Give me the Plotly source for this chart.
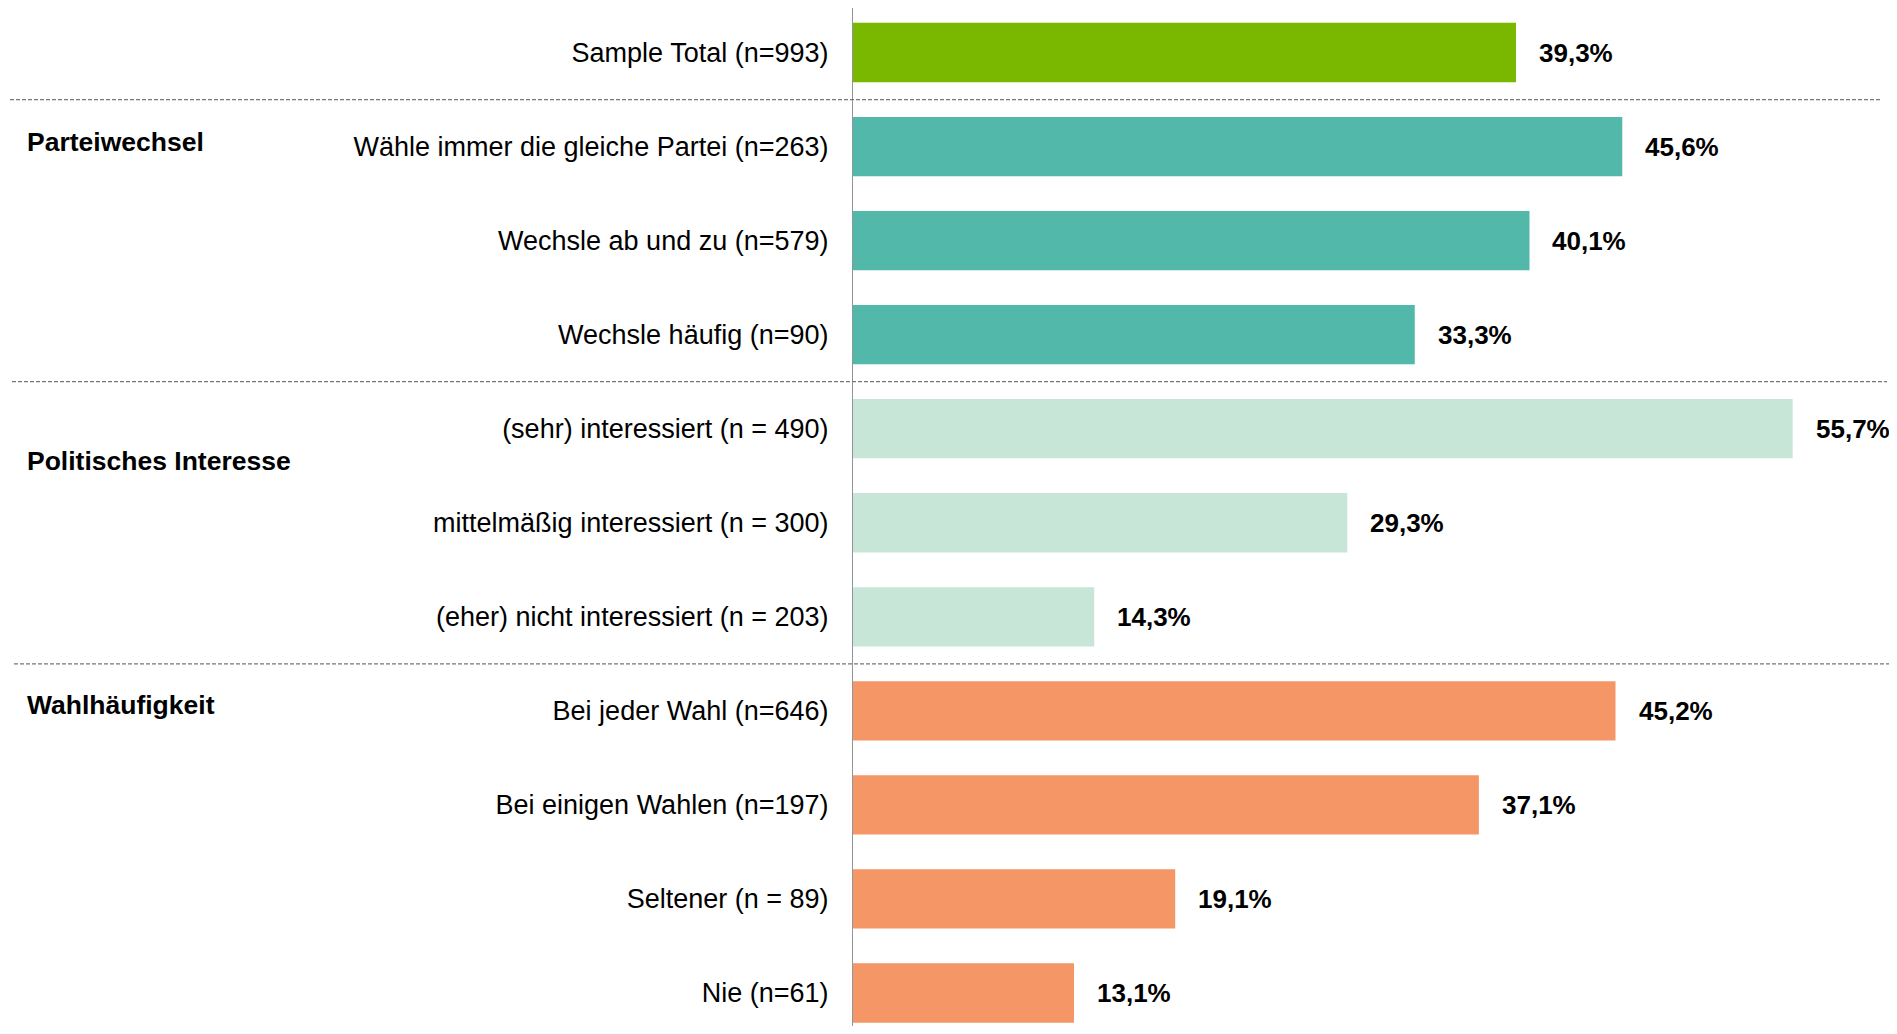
import plotly.graph_objects as go

categories = [
    "Sample Total (n=993)",
    "Wähle immer die gleiche Partei (n=263)",
    "Wechsle ab und zu (n=579)",
    "Wechsle häufig (n=90)",
    "(sehr) interessiert (n = 490)",
    "mittelmäßig interessiert (n = 300)",
    "(eher) nicht interessiert (n = 203)",
    "Bei jeder Wahl (n=646)",
    "Bei einigen Wahlen (n=197)",
    "Seltener (n = 89)",
    "Nie (n=61)",
]
values = [39.3, 45.6, 40.1, 33.3, 55.7, 29.3, 14.3, 45.2, 37.1, 19.1, 13.1]
groups = ["Total", "Parteiwechsel", "Parteiwechsel", "Parteiwechsel",
          "Politisches Interesse", "Politisches Interesse", "Politisches Interesse",
          "Wahlhäufigkeit", "Wahlhäufigkeit", "Wahlhäufigkeit", "Wahlhäufigkeit"]
group_colors = {
    "Total": "#7AB800",
    "Parteiwechsel": "#52B8AA",
    "Politisches Interesse": "#C8E6D8",
    "Wahlhäufigkeit": "#F59667",
}
group_titles = ["Parteiwechsel", "Politisches Interesse", "Wahlhäufigkeit"]
group_title_pos = [0.95, 4.34, 6.94]   # vertical position in category units
separators = [0.5, 3.5, 6.5]

# page has an 8px body margin; keep the figure inside the viewport
W, H = 1881, 1018
ML, MR, MT, MB = 845, 0, 0, 0
plot_w = W - ML - MR
plot_h = H - MT - MB
px_per_unit = 16.87
xmax = plot_w / px_per_unit
row_px = 94.05
y_top = -44.5 / row_px
y_bot = y_top + plot_h / row_px

def xp(px):
    return (px - ML) / plot_w

FONT = "Liberation Sans, Arial, sans-serif"

fig = go.Figure()
fig.add_trace(go.Bar(
    x=values,
    y=list(range(len(categories))),
    orientation="h",
    marker=dict(color=[group_colors[g] for g in groups], line=dict(width=0)),
    width=0.63,
    hoverinfo="x+y",
))

annotations = []
for i, v in enumerate(values):
    annotations.append(dict(
        x=v, y=i, xref="x", yref="y", xanchor="left", yanchor="middle",
        xshift=21, showarrow=False,
        text="<b>" + f"{v:.1f}".replace(".", ",") + "%</b>",
        font=dict(family=FONT, size=26, color="#000000"),
    ))
for t, p in zip(group_titles, group_title_pos):
    annotations.append(dict(
        x=xp(17), y=p, xref="paper", yref="y", xanchor="left", yanchor="middle",
        showarrow=False, text="<b>" + t + "</b>",
        font=dict(family=FONT, size=26.5, color="#000000"),
    ))

sep_ext = [(2, 1874), (4, 1879), (6, 1881)]
shapes = []
for s, (a, b) in zip(separators, sep_ext):
    shapes.append(dict(
        type="line", xref="paper", yref="y", x0=xp(a), x1=xp(b), y0=s, y1=s,
        line=dict(color="#777777", width=1.3, dash="4px,2px"), layer="above",
    ))

fig.update_layout(
    width=W, height=H,
    margin=dict(l=ML, r=MR, t=MT, b=MB, pad=0),
    paper_bgcolor="white", plot_bgcolor="white",
    showlegend=False,
    annotations=annotations,
    shapes=shapes,
    xaxis=dict(range=[0, xmax], showgrid=False, zeroline=False,
               showticklabels=False, showline=False, fixedrange=True),
    yaxis=dict(
        range=[y_bot, y_top],
        tickmode="array",
        tickvals=list(range(len(categories))),
        ticktext=categories,
        tickfont=dict(family=FONT, size=27, color="#000000"),
        ticks="outside", ticklen=18, tickcolor="rgba(0,0,0,0)",
        showline=True, linecolor="#8E959C", linewidth=1.2,
        showgrid=False, zeroline=False, fixedrange=True,
    ),
)

fig.write_html("out.html")
